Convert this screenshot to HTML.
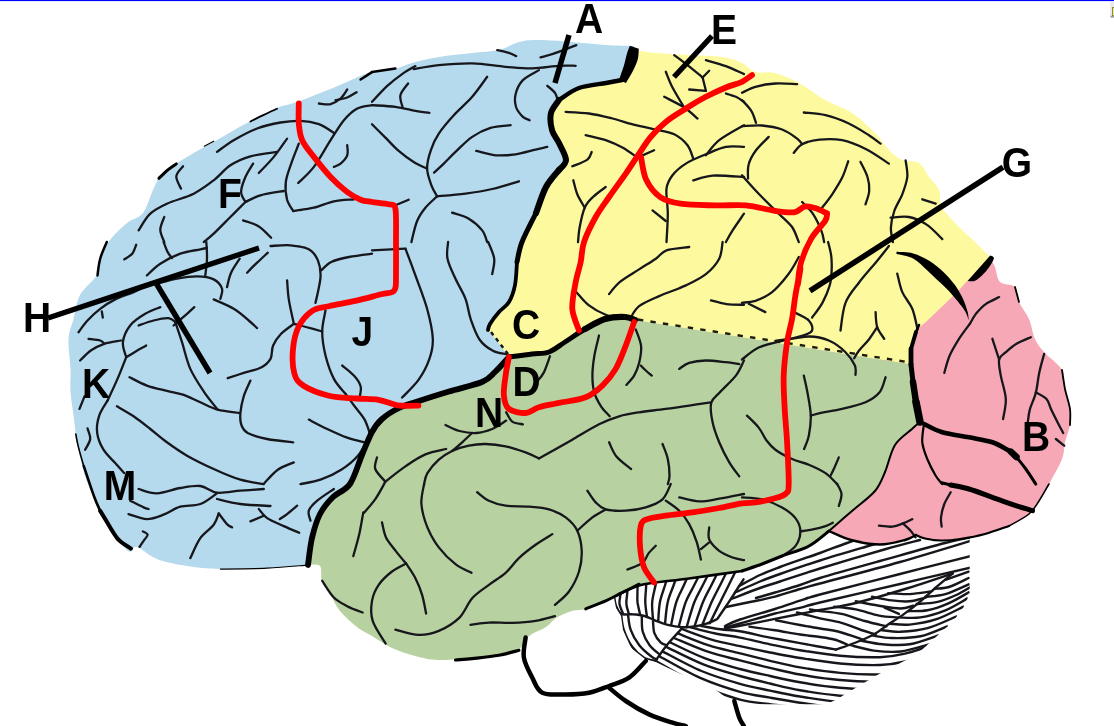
<!DOCTYPE html><html><head><meta charset="utf-8"><title>Brain</title><style>html,body{margin:0;padding:0;background:#fff;overflow:hidden}svg{display:block}text{font-family:"Liberation Sans",sans-serif;font-weight:bold;font-size:39px;fill:#000}</style></head><body>
<svg width="1114" height="726" viewBox="0 0 1114 726">
<rect width="1114" height="726" fill="#fff"/>
<rect width="1114" height="1.1" fill="#0000ff"/>
<rect x="1110" y="2" width="4" height="15.5" fill="#e9e9e9"/><rect x="1110.6" y="15.8" width="4" height="1.8" fill="#9a9a9a"/><rect x="1112" y="7" width="2" height="9" fill="#8e8e38"/><rect x="1113" y="8" width="1" height="7" fill="#e6e6a8"/>
<defs><filter id="soft" x="0" y="0" width="1114" height="726" filterUnits="userSpaceOnUse"><feGaussianBlur stdDeviation="0.55"/></filter></defs>
<g filter="url(#soft)">
<clipPath id="cb"><path d="M612.0 560.0 L614.0 598.0 L616.0 608.0 L621.0 616.0 L623.0 630.0 L631.0 648.0 L645.0 659.0 L655.6 662.0 L678.8 673.0 L713.3 688.0 L726.6 698.0 L736.5 704.2 L825.8 704.2 L835.7 700.0 L852.0 690.0 L880.0 673.5 L916.8 654.5 L943.6 630.0 L952.6 622.0 L963.4 607.5 L969.7 594.0 L969.7 520.0 L800.0 520.0Z"/></clipPath>
<g clip-path="url(#cb)" fill="none" stroke="#15181b" stroke-width="2.4" stroke-linecap="round" stroke-linejoin="round">
<path d="M614.3 597.9 C614.6 599.2 614.9 603.0 616.0 605.7 C617.2 608.3 618.5 612.5 621.2 613.9 C623.9 615.3 628.5 613.9 632.4 614.3 C636.2 614.6 640.7 615.0 644.4 616.0 C648.2 617.0 651.0 618.8 654.8 620.3 C658.5 621.7 662.2 623.4 666.8 624.6 C671.4 625.7 677.4 626.9 682.3 627.2 C687.2 627.5 692.0 626.9 696.1 626.3 C700.1 625.7 702.9 624.9 706.4 623.7 C709.8 622.6 715.0 620.1 716.7 619.4"/>
<path d="M621.1 587.6 C621.0 588.9 620.6 592.6 620.3 595.3 C620.1 598.1 619.0 600.9 619.5 603.9 C619.9 606.9 622.3 611.8 622.9 613.4"/>
<path d="M628.0 584.3 C627.9 585.9 627.5 590.3 627.2 593.6 C626.9 596.9 626.1 600.5 626.4 603.9 C626.6 607.3 628.5 612.3 628.9 613.9"/>
<path d="M637.5 579.3 C637.5 581.1 637.5 586.3 637.5 590.2 C637.5 594.0 637.1 598.1 637.5 602.2 C638.0 606.3 639.7 612.5 640.1 614.6"/>
<path d="M646.9 572.8 C646.8 575.1 646.4 581.8 646.1 586.7 C645.9 591.6 645.1 597.2 645.3 602.2 C645.4 607.2 646.7 614.4 647.0 616.8"/>
<path d="M658.7 569.5 C658.2 572.1 656.7 579.5 655.6 585.0 C654.5 590.5 652.6 596.5 652.2 602.2 C651.7 607.9 652.9 616.6 653.0 619.4"/>
<path d="M669.7 569.5 C669.0 572.1 666.7 579.5 665.1 585.0 C663.4 590.5 661.1 596.2 659.9 602.2 C658.8 608.2 658.5 618.0 658.2 621.1"/>
<path d="M679.1 569.5 C678.2 572.1 675.6 579.5 673.7 585.0 C671.8 590.5 669.1 595.8 667.7 602.2 C666.2 608.6 665.5 619.7 665.1 623.2"/>
<path d="M691.0 569.5 C689.8 572.1 686.5 579.5 684.0 585.0 C681.6 590.5 678.4 595.6 676.3 602.2 C674.1 608.9 672.0 621.1 671.1 624.9"/>
<path d="M702.1 569.5 C700.8 572.1 697.1 579.5 694.3 585.0 C691.6 590.5 688.3 595.3 685.7 602.2 C683.1 609.1 680.0 622.3 678.8 626.3"/>
<path d="M710.7 569.5 C709.4 572.1 705.7 579.5 702.9 585.0 C700.2 590.5 697.1 595.2 694.3 602.2 C691.6 609.2 687.9 623.0 686.6 627.2"/>
<path d="M719.3 569.5 C718.0 572.1 714.3 579.5 711.5 585.0 C708.8 590.5 705.8 595.2 702.9 602.2 C700.1 609.2 695.8 622.7 694.3 626.8"/>
<path d="M727.9 569.5 C726.6 572.1 722.9 579.5 720.2 585.0 C717.4 590.5 714.6 595.5 711.5 602.2 C708.5 609.0 703.7 621.6 702.1 625.4"/>
<path d="M736.5 569.5 C735.2 572.1 731.5 579.5 728.8 585.0 C726.0 590.5 723.3 595.8 720.2 602.2 C717.0 608.6 711.5 619.7 709.8 623.2"/>
<path d="M743.5 579.3 C742.3 581.1 739.0 586.3 736.5 590.2 C734.1 594.0 731.9 597.5 728.8 602.2 C725.6 606.9 719.4 615.8 717.6 618.6"/>
<path d="M621.2 615.1 C621.6 617.6 621.9 624.4 623.8 629.8 C625.6 635.1 628.9 642.2 632.4 647.0 C635.8 651.7 640.7 655.9 644.4 658.1 C648.2 660.4 653.0 660.3 654.8 660.7"/>
<path d="M628.1 615.1 C628.5 617.6 628.8 624.7 630.7 629.8 C632.5 634.8 635.8 640.8 639.3 645.2 C642.7 649.7 648.4 654.1 651.3 656.4 C654.2 658.8 655.9 658.9 656.8 659.4"/>
<path d="M641.8 616.8 C642.0 619.3 641.4 626.7 642.7 631.5 C644.0 636.2 646.7 641.4 649.6 645.2 C652.5 649.1 658.2 653.1 659.9 654.7"/>
<path d="M653.0 621.1 C653.3 623.2 653.1 629.6 654.4 633.2 C655.7 636.8 658.7 640.7 660.8 642.7 C662.8 644.7 665.8 644.8 666.8 645.2"/>
<path d="M682.3 628.0 C679.7 630.9 671.2 639.8 666.8 645.2 C662.4 650.7 657.5 658.1 655.6 660.7"/>
<path d="M701.2 626.0 C704.5 626.5 714.1 628.3 720.6 629.2 C727.1 630.1 731.8 629.9 740.0 631.3 C748.2 632.7 760.0 635.6 770.0 637.6 C780.0 639.5 791.7 641.6 800.0 643.1 C808.3 644.6 814.0 645.7 820.0 646.8 C826.0 647.9 833.1 649.0 835.7 649.5"/>
<path d="M690.9 627.3 C695.0 628.4 707.3 631.8 715.4 633.5 C723.6 635.2 730.9 635.8 740.0 637.6 C749.1 639.4 760.0 642.2 770.0 644.3 C780.0 646.4 788.3 648.3 800.0 650.2 C811.7 652.1 826.7 654.5 840.0 655.7 C853.3 656.9 869.2 657.5 880.0 657.2 C890.8 656.9 896.7 655.7 905.0 653.7 C913.3 651.7 921.7 649.1 930.0 645.2 C938.3 641.3 950.8 632.7 955.0 630.2"/>
<path d="M681.4 628.9 C686.3 630.6 701.0 636.4 710.7 639.3 C720.5 642.2 730.1 644.0 740.0 646.2 C749.9 648.4 760.0 650.5 770.0 652.5 C780.0 654.4 788.3 656.2 800.0 658.0 C811.7 659.8 826.7 662.3 840.0 663.5 C853.3 664.7 869.2 665.3 880.0 665.0 C890.8 664.7 896.7 663.5 905.0 661.5 C913.3 659.5 921.7 656.9 930.0 653.0 C938.3 649.1 950.8 640.5 955.0 638.0"/>
<path d="M677.7 633.4 C682.9 635.4 698.5 642.0 708.9 645.4 C719.2 648.7 729.8 650.7 740.0 653.3 C750.2 655.9 760.0 658.4 770.0 660.8 C780.0 663.1 788.3 665.4 800.0 667.4 C811.7 669.4 826.7 671.7 840.0 672.9 C853.3 674.1 869.2 674.7 880.0 674.4 C890.8 674.1 896.7 672.9 905.0 670.9 C913.3 668.9 921.7 666.3 930.0 662.4 C938.3 658.5 950.8 649.9 955.0 647.4"/>
<path d="M674.1 638.0 C679.5 640.2 696.0 647.7 707.0 651.4 C718.0 655.2 729.5 657.7 740.0 660.4 C750.5 663.1 760.0 665.5 770.0 667.9 C780.0 670.2 788.3 672.5 800.0 674.5 C811.7 676.5 826.7 678.8 840.0 680.0 C853.3 681.2 869.2 681.8 880.0 681.5 C890.8 681.2 896.7 680.0 905.0 678.0 C913.3 676.0 921.7 673.4 930.0 669.5 C938.3 665.6 950.8 657.0 955.0 654.5"/>
<path d="M670.4 642.5 C676.2 645.2 693.6 654.0 705.2 658.4 C716.8 662.8 729.2 666.1 740.0 669.0 C750.8 671.9 760.0 673.8 770.0 676.0 C780.0 678.3 788.3 680.3 800.0 682.3 C811.7 684.3 826.7 686.6 840.0 687.8 C853.3 689.0 869.2 689.6 880.0 689.3 C890.8 689.0 896.7 687.8 905.0 685.8 C913.3 683.8 921.7 681.2 930.0 677.3 C938.3 673.4 950.8 664.8 955.0 662.3"/>
<path d="M666.7 647.1 C672.8 650.0 691.1 659.6 703.3 664.4 C715.6 669.3 728.9 672.8 740.0 676.0 C751.1 679.2 760.0 681.2 770.0 683.5 C780.0 685.9 788.3 688.2 800.0 690.2 C811.7 692.2 826.7 694.5 840.0 695.7 C853.3 696.9 869.2 697.5 880.0 697.2 C890.8 696.9 896.7 695.7 905.0 693.7 C913.3 691.7 921.7 689.1 930.0 685.2 C938.3 681.3 950.8 672.7 955.0 670.2"/>
<path d="M663.0 651.6 C669.4 654.9 688.7 665.6 701.5 671.0 C714.3 676.4 728.6 680.6 740.0 683.9 C751.4 687.2 760.0 688.5 770.0 690.6 C780.0 692.7 788.3 694.6 800.0 696.5 C811.7 698.4 826.7 700.8 840.0 702.0 C853.3 703.2 869.2 703.8 880.0 703.5 C890.8 703.2 896.7 702.0 905.0 700.0 C913.3 698.0 921.7 695.4 930.0 691.5 C938.3 687.6 950.8 679.0 955.0 676.5"/>
<path d="M659.3 656.2 C666.0 659.7 686.2 671.6 699.6 677.6 C713.1 683.5 728.3 688.5 740.0 691.8 C751.7 695.1 760.0 695.8 770.0 697.6 C780.0 699.4 788.3 700.9 800.0 702.7 C811.7 704.5 826.7 707.0 840.0 708.2 C853.3 709.4 869.2 710.0 880.0 709.7 C890.8 709.4 896.7 708.2 905.0 706.2 C913.3 704.2 921.7 701.6 930.0 697.7 C938.3 693.8 950.8 685.2 955.0 682.7"/>
<path d="M655.6 660.7 C662.6 664.6 683.7 677.6 697.8 684.1 C711.9 690.5 728.0 696.3 740.0 699.6 C752.0 702.9 760.0 702.7 770.0 704.1 C780.0 705.5 788.3 706.4 800.0 708.0 C811.7 709.6 826.7 712.3 840.0 713.5 C853.3 714.7 869.2 715.3 880.0 715.0 C890.8 714.7 896.7 713.5 905.0 711.5 C913.3 709.5 921.7 706.9 930.0 703.0 C938.3 699.1 950.8 690.5 955.0 688.0"/>
<path d="M888.1 593.2 C891.7 593.4 902.4 594.4 909.6 594.1 C916.8 593.8 927.5 591.9 931.1 591.5"/>
<path d="M872.0 596.8 C875.3 597.4 885.4 599.7 891.7 600.4 C898.0 601.2 903.9 601.8 909.6 601.3 C915.3 600.9 923.0 598.3 925.7 597.7"/>
<path d="M855.8 601.3 C859.7 602.1 871.7 604.6 879.1 605.8 C886.6 607.0 895.0 608.5 900.6 608.5 C906.3 608.5 911.1 606.2 913.2 605.8"/>
<path d="M834.3 606.7 C837.9 607.1 848.4 607.9 855.8 609.4 C863.3 610.9 872.3 614.3 879.1 615.6 C886.0 617.0 894.1 617.1 897.1 617.4"/>
<path d="M810.0 609.5 C811.7 609.8 814.7 610.3 820.0 611.0 C825.3 611.7 834.0 612.2 841.5 613.9 C849.0 615.5 857.3 618.9 864.8 621.0 C872.3 623.1 882.7 625.5 886.3 626.4"/>
<path d="M797.0 612.5 C800.8 613.5 812.6 616.6 820.0 618.3 C827.4 620.0 834.6 620.9 841.5 622.8 C848.4 624.8 855.5 628.0 861.2 630.0 C866.9 631.9 873.2 633.7 875.6 634.5"/>
<path d="M776.1 620.3 C780.1 621.1 792.7 623.6 800.0 625.0 C807.3 626.4 813.7 627.4 820.0 628.5 C826.3 629.6 832.0 630.0 838.0 631.5 C844.0 633.0 851.3 635.7 855.8 637.2 C860.3 638.7 863.3 640.1 864.8 640.7"/>
<path d="M749.4 626.6 C753.7 627.2 766.6 629.0 775.0 630.3 C783.4 631.6 792.5 633.4 800.0 634.5 C807.5 635.6 814.3 636.2 820.0 637.0 C825.7 637.8 829.8 638.3 834.3 639.5 C838.8 640.7 844.8 643.5 846.9 644.3"/>
<path d="M884.5 607.6 L898.9 613.9"/>
<path d="M952.6 573.5 C949.9 575.8 941.9 582.3 936.5 587.0 C931.1 591.6 925.7 596.8 920.4 601.3 C915.0 605.8 909.6 610.0 904.2 613.9 C898.9 617.7 893.2 621.2 888.1 624.6 C883.0 628.0 879.1 631.5 873.8 634.5 C868.4 637.4 862.2 640.0 855.8 642.5 C849.5 645.1 839.1 648.5 835.8 649.7"/>
<path d="M945.4 579.8 L968.7 571.7"/>
<path d="M934.7 588.8 C937.1 588.5 943.4 588.8 949.0 587.0 C954.7 585.2 965.5 579.5 968.7 578.0"/>
<path d="M925.7 596.8 C929.0 596.4 938.3 596.2 945.4 594.1 C952.6 592.0 964.9 585.9 968.7 584.3"/>
<path d="M916.8 604.0 C920.1 603.7 929.9 603.7 936.5 602.2 C943.1 600.7 950.5 597.6 956.2 595.0 C961.9 592.5 968.1 588.3 970.5 587.0"/>
<path d="M907.8 611.2 C911.1 611.0 920.7 611.6 927.5 610.3 C934.4 608.9 942.2 606.1 949.0 603.1 C955.9 600.1 965.5 594.1 968.7 592.3"/>
<path d="M898.9 617.4 C902.4 617.4 912.6 618.6 920.4 617.4 C928.1 616.2 937.7 613.4 945.4 610.3 C953.2 607.1 963.4 600.6 967.0 598.6"/>
<path d="M889.9 623.7 C893.2 623.9 901.8 625.4 909.6 624.6 C917.4 623.9 927.5 622.2 936.5 619.2 C945.4 616.2 958.9 608.8 963.4 606.7"/>
<path d="M880.9 630.0 C884.2 630.3 892.9 632.1 900.6 631.8 C908.4 631.5 918.3 630.7 927.5 628.2 C936.8 625.7 951.4 618.5 956.2 616.5"/>
<path d="M872.0 635.4 C875.3 635.8 883.6 637.9 891.7 638.0 C899.7 638.2 911.1 638.2 920.4 636.3 C929.6 634.3 942.8 628.0 947.2 626.4"/>
<path d="M861.2 640.7 C864.8 641.3 874.7 643.7 882.7 644.3 C890.8 644.9 900.3 645.8 909.6 644.3 C918.9 642.8 933.5 636.9 938.3 635.4"/>
<path d="M850.5 645.2 C854.3 646.1 865.4 649.5 873.8 650.6 C882.1 651.6 891.4 652.5 900.6 651.5 C909.9 650.4 924.5 645.5 929.3 644.3"/>
<path d="M739.0 586.0 C742.5 584.2 753.2 578.2 760.0 575.0 C766.8 571.8 770.0 570.7 780.0 567.0 C790.0 563.3 808.8 557.0 820.0 553.0 C831.2 549.0 837.0 546.5 847.0 543.0 C857.0 539.5 874.5 533.8 880.0 532.0"/>
<path d="M735.0 592.5 C739.2 590.7 752.5 584.6 760.0 581.5 C767.5 578.4 770.0 577.5 780.0 574.0 C790.0 570.5 805.8 565.0 820.0 560.5 C834.2 556.0 851.7 550.9 865.0 547.0 C878.3 543.1 894.2 538.7 900.0 537.0"/>
<path d="M731.0 599.0 C735.8 597.2 751.8 590.9 760.0 588.0 C768.2 585.1 770.0 584.8 780.0 581.5 C790.0 578.2 802.3 573.9 820.0 568.5 C837.7 563.1 869.3 553.8 886.0 549.0 C902.7 544.2 914.3 541.5 920.0 540.0"/>
<path d="M756.0 598.0 C759.2 597.1 767.7 594.7 775.0 592.5 C782.3 590.3 792.5 587.4 800.0 585.0 C807.5 582.6 806.7 582.0 820.0 578.0 C833.3 574.0 859.2 566.8 880.0 561.0 C900.8 555.2 929.7 547.0 945.0 543.0 C960.3 539.0 967.5 538.0 972.0 537.0"/>
<path d="M726.0 607.0 C730.0 606.2 741.8 603.7 750.0 602.0 C758.2 600.3 766.7 598.8 775.0 596.6 C783.3 594.4 792.5 591.2 800.0 589.0 C807.5 586.8 803.3 588.0 820.0 583.5 C836.7 579.0 874.7 569.2 900.0 562.0 C925.3 554.8 960.0 544.1 972.0 540.5"/>
<path d="M725.0 626.0 C727.5 624.9 731.7 622.3 740.0 619.5 C748.3 616.7 765.0 612.1 775.0 609.0 C785.0 605.9 792.5 603.1 800.0 600.7 C807.5 598.3 803.3 599.0 820.0 594.5 C836.7 590.0 874.7 580.5 900.0 574.0 C925.3 567.5 960.0 558.8 972.0 555.7"/>
<path d="M725.0 627.5 C727.5 626.8 731.7 625.8 740.0 623.5 C748.3 621.2 765.0 616.1 775.0 613.5 C785.0 610.9 792.5 609.6 800.0 607.8 C807.5 606.0 803.3 606.5 820.0 602.5 C836.7 598.5 874.7 589.9 900.0 584.0 C925.3 578.1 960.0 570.0 972.0 567.2"/>
<path d="M725.0 628.5 C727.5 628.0 731.7 627.4 740.0 625.8 C748.3 624.2 765.0 620.9 775.0 618.9 C785.0 616.9 792.5 615.5 800.0 614.0 C807.5 612.5 810.7 611.8 820.0 610.0 C829.3 608.2 841.6 606.5 855.8 603.0 C870.0 599.5 888.9 593.9 905.0 589.0 C921.1 584.1 944.7 576.1 952.6 573.5"/>
</g>
<path d="M634.0 46.0 C629.2 45.8 615.3 45.7 605.0 45.0 C594.7 44.3 583.0 42.8 572.0 42.0 C561.0 41.2 547.8 40.0 539.0 40.0 C530.2 40.0 525.7 40.3 519.0 42.0 C512.3 43.7 506.8 48.2 499.0 50.0 C491.2 51.8 482.0 51.8 472.0 53.0 C462.0 54.2 449.0 55.3 439.0 57.0 C429.0 58.7 419.8 60.8 412.0 63.0 C404.2 65.2 398.8 68.5 392.0 70.0 C385.2 71.5 380.8 69.0 371.0 72.0 C361.2 75.0 345.3 83.0 333.0 88.0 C320.7 93.0 306.3 98.7 297.0 102.0 C287.7 105.3 285.3 104.5 277.0 108.0 C268.7 111.5 257.0 117.7 247.0 123.0 C237.0 128.3 227.0 134.3 217.0 140.0 C207.0 145.7 196.0 151.5 187.0 157.0 C178.0 162.5 168.7 167.5 163.0 173.0 C157.3 178.5 156.3 183.3 153.0 190.0 C149.7 196.7 147.3 207.5 143.0 213.0 C138.7 218.5 132.5 218.5 127.0 223.0 C121.5 227.5 114.5 234.0 110.0 240.0 C105.5 246.0 102.2 253.2 100.0 259.0 C97.8 264.8 100.3 269.0 97.0 275.0 C93.7 281.0 83.9 287.7 80.0 295.0 C76.1 302.3 75.4 311.7 73.5 319.0 C71.6 326.3 69.0 330.7 68.5 339.0 C68.0 347.3 70.2 360.2 70.5 369.0 C70.8 377.8 70.0 384.3 70.5 392.0 C71.0 399.7 72.4 406.7 73.5 415.0 C74.6 423.3 75.4 433.0 77.0 442.0 C78.6 451.0 81.2 462.0 83.0 469.0 C84.8 476.0 85.7 478.2 88.0 484.0 C90.3 489.8 93.3 496.8 97.0 504.0 C100.7 511.2 104.8 519.2 110.0 527.0 C115.2 534.8 123.5 547.7 128.0 551.0 C132.5 554.3 132.2 545.7 137.0 547.0 C141.8 548.3 148.7 555.8 157.0 559.0 C165.3 562.2 176.5 564.3 187.0 566.0 C197.5 567.7 206.7 568.7 220.0 569.0 C233.3 569.3 252.5 568.7 267.0 568.0 C281.5 567.3 300.3 565.5 307.0 565.0 L400.0 520.0 L509.0 357.0 L495.0 338.0 L488.0 330.0 C488.3 329.0 488.2 327.0 490.0 324.0 C491.8 321.0 495.8 315.7 499.0 312.0 C502.2 308.3 506.3 306.5 509.0 302.0 C511.7 297.5 513.7 291.7 515.0 285.0 C516.3 278.3 515.8 269.2 517.0 262.0 C518.2 254.8 518.8 250.2 522.0 242.0 C525.2 233.8 532.0 222.2 536.0 213.0 C540.0 203.8 542.2 194.2 546.0 187.0 C549.8 179.8 555.7 174.5 559.0 170.0 C562.3 165.5 566.0 164.5 566.0 160.0 C566.0 155.5 561.3 148.0 559.0 143.0 C556.7 138.0 553.3 135.0 552.0 130.0 C550.7 125.0 549.8 118.0 551.0 113.0 C552.2 108.0 554.3 104.2 559.0 100.0 C563.7 95.8 571.2 90.8 579.0 88.0 C586.8 85.2 598.8 84.3 606.0 83.0 C613.2 81.7 618.2 82.7 622.0 80.0 C625.8 77.3 627.0 72.3 629.0 67.0 C631.0 61.7 633.2 51.2 634.0 48.0Z" fill="#b5d9ed"/>
<path d="M990.0 257.0 C990.8 258.7 993.3 262.8 995.0 267.0 C996.7 271.2 996.7 278.7 1000.0 282.0 C1003.3 285.3 1011.8 283.7 1015.0 287.0 C1018.2 290.3 1016.7 296.7 1019.0 302.0 C1021.3 307.3 1026.3 312.8 1029.0 319.0 C1031.7 325.2 1032.5 333.5 1035.0 339.0 C1037.5 344.5 1039.5 346.8 1044.0 352.0 C1048.5 357.2 1058.5 363.8 1062.0 370.0 C1065.5 376.2 1063.7 382.5 1065.0 389.0 C1066.3 395.5 1069.2 403.0 1070.0 409.0 C1070.8 415.0 1070.8 419.5 1070.0 425.0 C1069.2 430.5 1066.3 436.3 1065.0 442.0 C1063.7 447.7 1064.7 452.0 1062.0 459.0 C1059.3 466.0 1052.8 477.0 1049.0 484.0 C1045.2 491.0 1042.3 496.0 1039.0 501.0 C1035.7 506.0 1034.0 509.8 1029.0 514.0 C1024.0 518.2 1016.3 522.7 1009.0 526.0 C1001.7 529.3 993.2 531.8 985.0 534.0 C976.8 536.2 967.3 537.9 960.0 539.0 C952.7 540.1 946.8 540.6 941.0 540.5 C935.2 540.4 929.2 539.4 925.0 538.5 C920.8 537.6 917.5 535.6 916.0 535.0 L916.0 535.0 C914.2 535.8 911.0 538.4 905.0 540.0 C899.0 541.6 889.0 544.5 880.0 544.5 C871.0 544.5 859.5 542.2 851.0 540.0 C842.5 537.8 832.7 532.5 829.0 531.0 L800.0 500.0 L880.0 360.0 L940.0 280.0Z" fill="#f6a8b6"/>
<path d="M634.0 48.0 C633.2 51.2 631.0 61.7 629.0 67.0 C627.0 72.3 625.8 77.3 622.0 80.0 C618.2 82.7 613.2 81.7 606.0 83.0 C598.8 84.3 586.8 85.2 579.0 88.0 C571.2 90.8 563.7 95.8 559.0 100.0 C554.3 104.2 552.2 108.0 551.0 113.0 C549.8 118.0 550.7 125.0 552.0 130.0 C553.3 135.0 556.7 138.0 559.0 143.0 C561.3 148.0 566.0 155.5 566.0 160.0 C566.0 164.5 562.3 165.5 559.0 170.0 C555.7 174.5 549.8 179.8 546.0 187.0 C542.2 194.2 540.0 203.8 536.0 213.0 C532.0 222.2 525.2 233.8 522.0 242.0 C518.8 250.2 518.2 254.8 517.0 262.0 C515.8 269.2 516.3 278.3 515.0 285.0 C513.7 291.7 511.7 297.5 509.0 302.0 C506.3 306.5 502.2 308.3 499.0 312.0 C495.8 315.7 491.8 321.0 490.0 324.0 C488.2 327.0 488.3 329.0 488.0 330.0 L495.0 338.0 L509.0 357.0 L509.0 357.0 C512.8 356.5 525.3 354.8 532.0 354.0 C538.7 353.2 543.5 354.0 549.0 352.0 C554.5 350.0 559.0 345.8 565.0 342.0 C571.0 338.2 578.3 332.8 585.0 329.0 C591.7 325.2 598.3 321.0 605.0 319.0 C611.7 317.0 620.0 316.8 625.0 317.0 C630.0 317.2 633.3 319.5 635.0 320.0 L911.0 364.5 L911.0 364.5 C911.0 361.9 910.2 354.4 911.0 349.0 C911.8 343.6 913.0 337.0 916.0 332.0 C919.0 327.0 922.5 325.3 929.0 319.0 C935.5 312.7 948.3 300.7 955.0 294.0 C961.7 287.3 963.2 285.2 969.0 279.0 C974.8 272.8 986.5 260.7 990.0 257.0 L990.0 257.0 C987.5 254.5 980.2 247.0 975.0 242.0 C969.8 237.0 964.5 232.8 959.0 227.0 C953.5 221.2 945.3 213.2 942.0 207.0 C938.7 200.8 941.2 195.0 939.0 190.0 C936.8 185.0 932.3 181.5 929.0 177.0 C925.7 172.5 923.5 165.8 919.0 163.0 C914.5 160.2 907.0 162.2 902.0 160.0 C897.0 157.8 893.5 154.5 889.0 150.0 C884.5 145.5 881.2 139.2 875.0 133.0 C868.8 126.8 860.3 118.5 852.0 113.0 C843.7 107.5 833.8 105.0 825.0 100.0 C816.2 95.0 807.3 87.5 799.0 83.0 C790.7 78.5 782.3 74.8 775.0 73.0 C767.7 71.2 760.5 73.7 755.0 72.0 C749.5 70.3 747.5 65.5 742.0 63.0 C736.5 60.5 730.8 58.3 722.0 57.0 C713.2 55.7 700.0 55.7 689.0 55.0 C678.0 54.3 664.8 53.8 656.0 53.0 C647.2 52.2 639.7 50.8 636.0 50.0 C632.3 49.2 634.3 48.3 634.0 48.0Z" fill="#fdf99e"/>
<path d="M308.0 565.0 C308.7 560.5 310.0 546.5 312.0 538.0 C314.0 529.5 316.5 520.8 320.0 514.0 C323.5 507.2 328.0 502.0 333.0 497.0 C338.0 492.0 345.2 491.0 350.0 484.0 C354.8 477.0 358.3 463.7 362.0 455.0 C365.7 446.3 368.7 438.0 372.0 432.0 C375.3 426.0 377.5 423.0 382.0 419.0 C386.5 415.0 392.8 411.0 399.0 408.0 C405.2 405.0 410.7 403.8 419.0 401.0 C427.3 398.2 438.5 394.7 449.0 391.5 C459.5 388.3 474.3 385.2 482.0 382.0 C489.7 378.8 490.5 376.2 495.0 372.0 C499.5 367.8 506.7 359.5 509.0 357.0 L509.0 357.0 C512.8 356.5 525.3 354.8 532.0 354.0 C538.7 353.2 543.5 354.0 549.0 352.0 C554.5 350.0 559.0 345.8 565.0 342.0 C571.0 338.2 578.3 332.8 585.0 329.0 C591.7 325.2 598.3 321.0 605.0 319.0 C611.7 317.0 620.0 316.8 625.0 317.0 C630.0 317.2 633.3 319.5 635.0 320.0 L911.0 364.5 L911.0 364.5 C911.3 367.4 912.2 375.8 913.0 382.0 C913.8 388.2 914.8 395.3 916.0 402.0 C917.2 408.7 919.3 418.7 920.0 422.0 L920.0 422.0 C918.7 423.2 916.2 425.2 912.0 429.0 C907.8 432.8 899.5 437.8 895.0 445.0 C890.5 452.2 888.3 464.3 885.0 472.0 C881.7 479.7 880.5 484.5 875.0 491.0 C869.5 497.5 859.7 504.3 852.0 511.0 C844.3 517.7 832.8 527.7 829.0 531.0 L829.0 531.0 C825.7 533.5 816.8 541.8 809.0 546.0 C801.2 550.2 789.8 553.0 782.0 556.0 C774.2 559.0 768.7 561.5 762.0 564.0 C755.3 566.5 754.2 568.6 742.0 571.0 C729.8 573.4 703.3 576.6 689.0 578.5 C674.7 580.4 664.3 581.3 656.0 582.5 C647.7 583.7 645.2 583.6 639.0 585.5 C632.8 587.4 624.5 591.4 619.0 594.0 C613.5 596.6 611.5 598.5 606.0 601.0 C600.5 603.5 591.7 607.3 586.0 609.0 C580.3 610.7 577.0 609.5 572.0 611.0 C567.0 612.5 560.3 615.3 556.0 618.0 C551.7 620.7 550.5 624.0 546.0 627.0 C541.5 630.0 533.5 632.3 529.0 636.0 C524.5 639.7 524.0 645.8 519.0 649.0 C514.0 652.2 506.8 653.5 499.0 655.0 C491.2 656.5 482.0 657.2 472.0 658.0 C462.0 658.8 448.5 660.3 439.0 660.0 C429.5 659.7 422.8 658.0 415.0 656.0 C407.2 654.0 399.2 651.3 392.0 648.0 C384.8 644.7 377.8 639.5 372.0 636.0 C366.2 632.5 362.3 631.2 357.0 627.0 C351.7 622.8 344.5 616.5 340.0 611.0 C335.5 605.5 333.0 599.0 330.0 594.0 C327.0 589.0 323.7 585.7 322.0 581.0 C320.3 576.3 322.3 568.7 320.0 566.0 C317.7 563.3 310.0 565.2 308.0 565.0Z" fill="#b7d1a0"/>
<g fill="none" stroke="#15181b" stroke-width="2.3" stroke-linecap="round" stroke-linejoin="round">
<path d="M318.9 103.5 C320.8 103.6 326.9 105.0 330.6 104.2 C334.2 103.3 337.8 100.9 340.6 98.5 C343.4 96.0 346.1 91.0 347.2 89.5"/>
<path d="M335.6 100.2 C337.5 99.7 343.7 98.8 347.2 97.5 C350.8 96.2 355.0 93.0 356.6 92.2"/>
<path d="M217.0 151.9 C219.8 150.0 227.0 144.1 233.7 140.2 C240.4 136.3 249.3 131.5 257.1 128.5 C264.9 125.6 273.2 123.8 280.5 122.5 C287.7 121.3 294.1 120.6 300.5 120.9 C306.9 121.1 313.3 122.2 318.9 124.2 C324.4 126.2 331.4 131.4 333.9 132.9"/>
<path d="M372.0 105.2 C369.5 105.7 361.9 106.0 357.3 108.5 C352.6 111.0 348.4 114.9 343.9 120.2 C339.5 125.5 335.6 132.4 330.6 140.2 C325.5 148.0 319.3 159.8 313.9 166.9 C308.5 174.1 300.8 180.3 298.2 183.0"/>
<path d="M347.2 145.2 C347.2 146.9 348.4 152.2 347.2 155.3 C346.1 158.3 342.8 161.7 340.6 163.6 C338.3 165.6 335.0 166.4 333.9 166.9"/>
<path d="M258.8 173.0 C261.3 170.3 269.1 162.7 273.8 156.9 C278.5 151.2 284.9 141.6 287.1 138.6"/>
<path d="M183.0 166.3 C181.9 167.9 176.6 172.6 176.3 176.3 C176.0 180.0 180.2 186.6 181.0 188.6"/>
<path d="M138.6 230.4 C140.5 227.6 145.5 218.1 150.3 213.7 C155.0 209.2 159.7 207.0 166.9 203.7 C174.2 200.3 185.9 197.6 193.7 193.7 C201.4 189.8 207.6 185.0 213.7 180.3 C219.8 175.6 224.3 169.3 230.4 165.3 C236.5 161.3 242.6 158.5 250.4 156.3 C258.2 154.0 272.7 152.6 277.1 151.9"/>
<path d="M253.1 163.6 C251.8 165.8 247.4 172.2 245.4 177.0 C243.4 181.7 241.1 187.8 241.1 192.0 C241.1 196.2 244.7 200.3 245.4 202.0"/>
<path d="M245.4 202.0 C247.9 200.9 254.0 197.2 260.4 195.3 C266.8 193.5 279.9 191.7 283.8 191.0"/>
<path d="M245.4 202.0 C242.9 204.5 235.7 211.7 230.4 217.0 C225.1 222.3 218.1 229.5 213.7 233.7 C209.2 237.9 205.3 240.7 203.7 242.1"/>
<path d="M298.8 143.6 C297.6 146.9 293.3 157.2 291.2 163.6 C289.0 170.0 286.5 176.0 285.8 182.0 C285.1 188.0 285.9 194.8 287.1 199.7 C288.4 204.5 292.2 209.1 293.2 211.0"/>
<path d="M293.2 211.0 C296.6 210.5 307.1 209.3 313.9 207.7 C320.6 206.1 327.2 202.7 333.9 201.3 C340.6 199.9 350.6 199.7 353.9 199.3"/>
<path d="M164.3 217.0 C163.6 219.1 160.3 225.5 160.3 229.7 C160.3 233.9 163.6 240.0 164.3 242.1"/>
<path d="M243.1 220.4 C245.7 221.4 254.1 223.5 258.8 226.4 C263.4 229.3 269.1 235.8 271.1 237.7"/>
<path d="M372.0 101.8 C374.5 99.2 382.0 90.8 387.0 86.1 C392.0 81.5 397.3 77.5 402.1 74.1 C406.8 70.8 413.2 67.4 415.4 66.1"/>
<path d="M413.7 69.1 C417.9 68.4 429.0 66.1 438.8 65.1 C448.5 64.2 461.0 63.2 472.2 63.4 C483.3 63.7 495.5 65.9 505.6 66.8 C515.6 67.6 523.4 68.6 532.3 68.4 C541.2 68.3 551.7 66.2 559.0 65.8 C566.2 65.3 572.9 65.8 575.7 65.8"/>
<path d="M497.2 50.1 C499.2 50.5 505.7 51.8 508.9 52.8 C512.1 53.8 515.0 55.5 516.2 56.1"/>
<path d="M408.1 83.5 C406.8 85.4 401.3 91.2 400.4 95.2 C399.5 99.2 402.3 105.5 402.7 107.5"/>
<path d="M372.0 105.2 C375.9 105.5 388.1 105.9 395.4 106.8 C402.6 107.8 409.7 109.8 415.4 110.9 C421.1 111.9 427.1 112.5 429.4 112.9"/>
<path d="M487.2 76.8 C484.7 80.1 477.7 90.4 472.2 96.8 C466.6 103.2 459.4 109.1 453.8 115.2 C448.2 121.3 442.6 127.7 438.8 133.6 C434.9 139.4 432.7 144.4 430.8 150.3 C428.8 156.1 427.0 162.8 427.1 168.6 C427.2 174.5 429.8 180.7 431.4 185.3 C433.1 189.9 436.2 194.5 437.1 196.3"/>
<path d="M372.0 124.2 C374.2 126.4 380.9 133.1 385.4 137.6 C389.8 142.0 394.0 146.9 398.7 150.9 C403.4 155.0 409.0 159.0 413.7 161.9 C418.5 164.9 424.9 167.5 427.1 168.6"/>
<path d="M510.6 125.2 C507.2 125.7 496.9 125.9 490.5 127.9 C484.1 129.8 478.0 132.9 472.2 136.9 C466.3 140.9 460.2 147.5 455.5 151.9 C450.7 156.4 447.3 160.2 443.8 163.6 C440.2 167.1 435.7 171.1 434.1 172.6"/>
<path d="M437.1 196.3 C441.8 195.9 456.3 194.9 465.5 193.7 C474.7 192.4 483.3 191.0 492.2 189.0 C501.1 186.9 514.5 182.6 518.9 181.3"/>
<path d="M437.1 196.3 C435.2 198.2 428.8 203.6 425.4 207.7 C422.1 211.8 419.4 215.3 417.1 221.0 C414.7 226.8 412.3 238.6 411.4 242.1"/>
<path d="M395.4 205.3 L408.7 199.7"/>
<path d="M452.1 212.7 C454.9 213.7 463.8 215.7 468.8 218.7 C473.8 221.6 479.1 226.5 482.2 230.4 C485.2 234.3 486.4 240.1 487.2 242.1"/>
<path d="M538.9 70.1 C536.3 71.8 526.8 76.1 522.9 80.1 C519.0 84.1 516.7 89.6 515.6 94.2 C514.5 98.7 515.0 103.7 516.2 107.5 C517.5 111.3 520.7 114.7 522.9 116.9 C525.1 119.0 528.5 119.6 529.6 120.2"/>
<path d="M547.3 85.8 C548.6 87.0 553.2 90.4 555.0 92.8 C556.7 95.2 557.2 98.9 557.6 100.2"/>
<path d="M476.2 150.9 C479.4 151.6 489.0 154.7 495.5 155.3 C502.1 155.8 508.9 155.2 515.6 154.3 C522.3 153.3 530.3 150.8 535.6 149.6 C540.9 148.4 545.3 147.4 547.3 146.9"/>
<path d="M540.6 57.4 C543.4 56.6 551.4 54.5 557.3 52.4 C563.3 50.4 573.2 46.3 576.3 45.1"/>
<path d="M565.7 111.9 C569.6 112.1 581.2 112.4 589.0 113.5 C596.8 114.6 604.6 116.6 612.4 118.5 C620.2 120.5 628.5 123.4 635.8 125.2 C643.0 127.0 652.5 128.8 655.8 129.5"/>
<path d="M585.7 135.2 C589.0 136.1 599.6 138.2 605.7 140.2 C611.8 142.3 617.1 144.7 622.4 147.6 C627.7 150.5 634.9 155.9 637.4 157.6"/>
<path d="M637.4 157.6 L654.1 150.3"/>
<path d="M591.7 151.9 C591.0 153.2 590.6 157.2 587.4 159.6 C584.1 162.0 574.8 165.2 572.3 166.3"/>
<path d="M573.3 180.3 C574.0 182.6 575.5 189.8 577.3 194.3 C579.2 198.9 583.5 205.5 584.7 207.7"/>
<path d="M605.7 187.0 C603.6 188.6 596.5 193.5 593.0 197.0 C589.5 200.4 586.9 202.7 584.7 207.7 C582.5 212.7 580.8 221.3 579.7 227.0 C578.6 232.8 578.3 239.6 578.0 242.1"/>
<path d="M665.8 71.8 C666.9 74.4 669.4 81.5 672.5 87.5 C675.6 93.4 682.2 104.2 684.2 107.5"/>
<path d="M664.2 96.8 C667.5 98.6 678.6 103.9 684.2 107.5 C689.8 111.1 695.3 116.7 697.5 118.5"/>
<path d="M674.2 55.1 C676.4 56.8 682.8 61.4 687.5 65.1 C692.3 68.8 700.0 75.4 702.6 77.5"/>
<path d="M702.6 77.5 L705.9 90.8"/>
<path d="M689.2 89.5 L705.9 90.8"/>
<path d="M705.9 60.1 C709.2 61.1 719.6 63.8 725.9 66.1 C732.3 68.4 740.9 72.8 744.0 74.1"/>
<path d="M709.2 70.8 L702.6 77.5"/>
<path d="M725.9 93.5 C727.6 94.0 732.9 95.4 735.9 96.8 C738.9 98.2 742.6 101.0 744.0 101.8"/>
<path d="M655.8 129.5 C658.9 130.3 668.9 131.6 674.2 134.2 C679.5 136.8 684.4 141.2 687.5 145.2 C690.7 149.3 692.3 156.4 693.2 158.6"/>
<path d="M744.0 125.2 C739.8 127.7 725.6 135.2 719.2 140.2 C712.9 145.2 708.1 152.8 705.9 155.3"/>
<path d="M744.0 146.9 C740.9 146.9 732.3 145.7 725.9 146.9 C719.6 148.1 712.6 151.5 705.9 154.3 C699.2 157.0 691.4 160.1 685.9 163.6 C680.3 167.1 675.7 171.1 672.5 175.3 C669.3 179.5 667.3 182.2 666.5 188.6 C665.7 195.0 667.8 204.8 667.8 213.7 C667.8 222.6 666.7 237.3 666.5 242.1"/>
<path d="M693.2 180.3 C696.4 179.5 704.1 176.2 712.6 175.6 C721.0 175.1 738.7 176.7 744.0 177.0"/>
<path d="M652.5 210.4 L665.8 221.0"/>
<path d="M744.0 213.7 C742.1 216.5 735.6 225.7 732.6 230.4 C729.6 235.1 727.0 240.1 725.9 242.1"/>
<path d="M742.0 92.8 C744.2 91.8 749.8 88.4 755.4 86.8 C760.9 85.3 768.4 83.9 775.4 83.5 C782.3 83.0 793.5 84.0 797.1 84.1"/>
<path d="M742.0 100.2 C743.6 101.9 749.0 107.1 751.3 110.9 C753.7 114.6 755.2 120.9 756.0 122.9"/>
<path d="M803.8 112.5 C807.4 113.0 818.0 113.4 825.5 115.2 C833.0 117.0 841.6 120.2 848.8 123.5 C856.1 126.9 863.6 131.9 868.9 135.2 C874.2 138.6 878.6 142.2 880.6 143.6"/>
<path d="M742.0 126.2 C745.3 126.1 755.4 125.0 762.0 125.5 C768.7 126.1 776.2 127.4 782.1 129.5 C787.9 131.7 793.8 136.1 797.1 138.6 C800.4 141.0 801.3 143.3 802.1 144.2"/>
<path d="M793.8 152.9 C795.1 151.5 797.8 146.5 802.1 144.2 C806.4 142.0 812.8 140.2 819.5 139.6 C826.1 138.9 834.4 138.6 842.2 140.2 C850.0 141.8 858.4 145.4 866.2 149.2 C874.0 153.1 885.1 161.2 888.9 163.6"/>
<path d="M768.7 136.9 C766.6 139.1 759.4 145.7 756.0 150.3 C752.7 154.8 750.0 159.5 748.7 164.3 C747.3 169.0 748.1 176.2 748.0 178.6"/>
<path d="M742.0 175.3 C744.8 178.4 752.6 187.3 758.7 193.7 C764.8 200.1 775.4 210.4 778.7 213.7"/>
<path d="M848.2 161.3 C847.2 164.0 844.8 172.1 842.2 177.6 C839.5 183.1 835.5 189.3 832.2 194.3 C828.8 199.3 823.8 205.5 822.1 207.7"/>
<path d="M860.5 161.9 C861.7 164.4 866.1 172.1 867.5 177.0 C869.0 181.8 869.5 186.4 869.2 191.0 C868.9 195.5 866.2 202.1 865.5 204.3"/>
<path d="M905.6 160.3 C905.9 163.0 907.8 171.3 907.3 177.0 C906.7 182.6 904.4 188.6 902.3 194.3 C900.1 200.0 896.1 205.5 894.3 211.0 C892.4 216.6 891.1 222.5 890.9 227.7 C890.7 232.9 892.6 239.7 892.9 242.1"/>
<path d="M922.3 199.3 L935.7 203.7"/>
<path d="M890.6 217.7 C893.6 217.6 903.0 215.9 908.9 217.0 C914.9 218.1 920.7 220.7 926.3 224.4 C931.9 228.0 939.7 236.6 942.3 239.1"/>
<path d="M802.1 202.0 C803.9 204.0 809.6 208.8 812.8 213.7 C816.0 218.5 819.6 226.3 821.5 231.1 C823.4 235.8 823.7 240.2 824.1 242.1"/>
<path d="M778.7 213.7 C781.0 215.9 788.7 222.3 792.1 227.0 C795.4 231.8 797.6 239.6 798.8 242.1"/>
<path d="M126.2 357.2 C124.8 360.8 120.6 371.7 117.5 378.9 C114.4 386.1 109.2 397.0 107.5 400.6"/>
<path d="M79.5 408.9 L84.5 396.3"/>
<path d="M101.8 311.4 L102.8 317.5"/>
<path d="M136.2 244.7 C135.6 246.2 134.2 251.2 132.2 253.7 C130.2 256.1 125.5 258.4 124.2 259.4"/>
<path d="M163.6 242.0 C164.3 243.7 166.2 249.3 167.6 252.0 C169.0 254.7 171.2 257.0 172.0 258.0"/>
<path d="M146.9 275.4 C149.1 273.4 154.7 267.3 160.3 263.7 C165.8 260.1 173.6 256.1 180.3 253.7 C187.0 251.3 195.9 250.3 200.3 249.3 C204.8 248.4 205.9 248.2 207.0 248.0"/>
<path d="M206.3 242.0 C206.5 244.8 207.2 253.1 207.0 258.7 C206.8 264.3 205.6 272.6 205.3 275.4"/>
<path d="M239.7 258.7 C238.3 261.0 233.2 268.0 231.1 272.7 C228.9 277.4 227.7 284.7 227.0 287.1"/>
<path d="M270.5 246.0 C273.8 245.9 284.1 244.8 290.5 245.3 C296.9 245.9 304.3 246.8 308.8 249.3 C313.4 251.8 315.9 255.7 317.9 260.4 C319.8 265.0 320.9 270.0 320.5 277.1 C320.1 284.1 316.4 298.5 315.5 302.8"/>
<path d="M267.8 252.7 C266.0 254.4 260.5 259.4 257.1 262.7 C253.6 266.0 248.7 271.0 247.1 272.7"/>
<path d="M372.0 253.7 C368.1 254.2 355.7 255.6 348.9 257.0 C342.1 258.4 335.8 259.8 331.2 262.0 C326.6 264.3 322.9 269.0 321.2 270.4"/>
<path d="M78.5 332.2 C80.0 330.2 83.9 324.4 87.5 320.5 C91.1 316.6 95.5 312.3 100.2 308.8 C104.8 305.3 109.6 302.2 115.2 299.4 C120.8 296.6 128.3 294.4 133.6 292.1 C138.8 289.7 144.7 286.5 146.9 285.4"/>
<path d="M80.1 360.5 C81.9 358.9 86.8 353.3 90.8 350.5 C94.8 347.7 99.2 345.5 104.2 343.8 C109.2 342.2 118.1 341.1 120.9 340.5"/>
<path d="M88.5 338.8 C90.4 339.1 97.6 339.7 100.2 340.5 C102.8 341.3 103.5 343.3 104.2 343.8"/>
<path d="M126.2 357.2 C125.7 354.7 122.2 347.5 122.9 342.2 C123.5 336.9 126.5 330.2 130.2 325.5 C133.9 320.7 140.2 316.8 145.2 313.8 C150.3 310.7 157.8 308.2 160.3 307.1"/>
<path d="M126.2 357.2 C128.0 356.1 133.6 352.8 136.9 350.8 C140.2 348.9 144.7 346.4 146.2 345.5"/>
<path d="M138.6 325.5 C141.1 324.6 148.6 321.7 153.6 320.5 C158.6 319.2 164.8 317.7 168.6 318.1 C172.4 318.5 175.0 322.0 176.3 322.8"/>
<path d="M173.6 325.5 C175.8 323.5 183.5 316.8 187.0 313.8 C190.4 310.7 193.1 308.2 194.3 307.1"/>
<path d="M175.3 322.1 C176.4 325.5 179.5 334.4 182.0 342.2 C184.5 350.0 186.6 360.5 190.3 368.9 C194.0 377.2 199.8 385.5 204.3 392.3 C208.9 399.0 215.5 406.7 217.7 409.6"/>
<path d="M156.9 283.7 C160.3 282.9 170.3 280.0 177.0 278.7 C183.6 277.5 190.9 276.3 197.0 276.4 C203.1 276.5 209.5 277.3 213.7 279.4 C217.9 281.5 220.9 285.5 222.0 288.7 C223.1 292.0 220.6 297.1 220.4 298.8"/>
<path d="M213.7 299.4 C217.0 301.0 227.9 305.3 233.7 308.8 C239.6 312.3 244.9 317.2 248.7 320.5 C252.6 323.7 255.7 326.9 257.1 328.1"/>
<path d="M287.1 280.4 C287.4 283.6 287.7 292.2 288.8 299.4 C289.9 306.7 293.0 319.7 293.8 323.8"/>
<path d="M293.8 323.8 C291.7 325.5 284.6 330.2 281.1 333.8 C277.7 337.4 274.9 341.3 273.1 345.5 C271.3 349.7 272.5 355.2 270.5 358.9 C268.4 362.5 265.6 365.2 261.1 367.5 C256.6 369.9 249.3 371.1 243.7 372.9 C238.2 374.7 230.4 377.3 227.7 378.2"/>
<path d="M293.8 323.8 C296.2 324.4 303.1 326.2 307.8 327.5 C312.6 328.8 319.8 330.8 322.2 331.5"/>
<path d="M325.5 310.4 C325.0 314.0 322.2 324.0 322.2 331.5 C322.2 339.0 323.6 347.6 325.5 355.5 C327.5 363.4 330.6 372.5 333.9 378.9 C337.2 385.3 343.6 391.4 345.6 393.9"/>
<path d="M342.2 365.5 C344.2 367.2 350.9 372.1 353.9 375.6 C357.0 379.0 359.6 382.8 360.6 386.2 C361.6 389.7 360.0 394.6 359.9 396.3"/>
<path d="M129.5 377.2 C132.4 378.6 140.7 383.3 146.9 385.6 C153.1 387.9 160.9 389.4 166.9 390.9 C173.0 392.4 177.4 392.7 183.0 394.6 C188.5 396.5 194.5 399.8 200.3 402.3 C206.1 404.8 211.2 407.8 217.7 409.6 C224.2 411.4 235.5 412.4 239.1 413.0"/>
<path d="M250.4 380.6 C249.3 383.2 245.4 390.9 243.7 396.3 C242.1 401.7 240.8 408.2 240.4 413.0 C240.0 417.7 240.2 421.6 241.4 425.0 C242.6 428.3 243.5 430.6 247.7 433.0 C252.0 435.3 259.5 437.4 267.1 439.0 C274.7 440.6 288.8 441.8 293.2 442.3"/>
<path d="M116.9 406.3 C119.6 407.9 128.0 412.5 133.6 416.3 C139.1 420.1 144.7 424.6 150.3 429.0 C155.8 433.3 160.8 437.9 166.9 442.3 C173.1 446.8 179.2 451.2 187.0 455.7 C194.8 460.1 204.8 465.0 213.7 469.0 C222.6 473.1 232.1 477.2 240.4 479.7 C248.7 482.2 259.9 483.3 263.8 484.1"/>
<path d="M107.5 400.6 C106.1 403.1 100.9 410.2 99.2 415.6 C97.4 421.0 96.4 427.3 97.2 433.0 C97.9 438.7 100.5 444.7 103.5 449.7 C106.5 454.7 111.7 459.1 115.2 463.0 C118.6 466.9 122.7 471.4 124.2 473.1"/>
<path d="M87.5 428.3 C87.9 430.1 90.5 435.4 90.2 439.0 C89.8 442.6 86.0 447.9 85.1 449.7"/>
<path d="M308.8 419.6 C311.9 421.2 320.8 426.0 327.2 429.0 C333.6 432.0 341.0 435.4 347.2 437.7 C353.5 439.9 361.7 441.6 364.6 442.3"/>
<path d="M367.3 439.7 C365.7 442.3 362.3 450.7 357.9 455.7 C353.6 460.7 347.5 465.7 341.2 469.7 C335.0 473.7 327.3 477.3 320.5 479.7 C313.7 482.1 303.8 483.3 300.5 484.1"/>
<path d="M293.8 462.4 C291.2 463.6 282.7 466.3 277.8 469.7 C272.9 473.2 266.7 480.8 264.4 483.1"/>
<path d="M345.6 393.9 C347.1 396.0 351.4 402.0 354.6 406.3 C357.8 410.6 361.9 414.7 364.6 419.6 C367.3 424.5 369.6 433.0 370.6 435.7"/>
<path d="M550.0 356.2 C548.9 359.0 545.8 368.7 543.6 372.9 C541.4 377.1 538.1 380.1 536.9 381.6"/>
<path d="M372.0 250.3 L405.4 248.7"/>
<path d="M405.4 248.7 C407.1 253.1 411.8 265.4 415.4 275.4 C419.0 285.4 424.2 298.2 427.1 308.8 C430.0 319.4 432.4 330.5 432.8 338.8 C433.2 347.2 431.8 352.1 429.4 358.9 C427.1 365.7 423.3 373.1 418.7 379.6 C414.2 386.0 404.8 394.6 402.1 397.6"/>
<path d="M448.1 242.0 C448.0 244.8 446.2 252.6 447.5 258.7 C448.7 264.8 452.5 272.1 455.5 278.7 C458.5 285.4 462.9 292.0 465.5 298.8 C468.0 305.6 468.5 312.7 470.8 319.5 C473.2 326.3 475.8 334.3 479.5 339.5 C483.2 344.7 488.4 348.4 492.9 350.8 C497.3 353.3 504.0 353.6 506.2 354.2"/>
<path d="M488.2 242.0 C489.2 244.8 493.5 253.4 494.2 258.7 C494.9 264.0 492.5 271.5 492.2 274.1"/>
<path d="M689.2 247.0 C685.4 247.6 672.1 248.4 666.5 250.3 C660.9 252.3 660.4 255.5 655.8 258.7 C651.2 261.9 645.1 265.5 639.1 269.4 C633.1 273.3 624.8 277.9 619.7 282.1 C614.7 286.2 610.8 292.1 609.1 294.1"/>
<path d="M722.6 242.0 C722.0 244.8 722.0 253.4 719.2 258.7 C716.5 264.0 711.5 269.6 705.9 274.1 C700.3 278.5 693.6 281.7 685.9 285.4 C678.1 289.1 666.9 292.6 659.1 296.1 C651.4 299.5 643.8 302.5 639.1 306.1 C634.4 309.7 632.2 315.6 630.8 317.5"/>
<path d="M576.3 292.1 C578.5 294.3 584.1 301.7 589.0 305.4 C593.9 309.2 600.7 312.8 605.7 314.8 C610.7 316.8 616.9 317.0 619.1 317.5"/>
<path d="M710.9 300.4 C713.5 301.0 721.1 303.4 726.6 304.1 C732.1 304.8 741.1 304.7 744.0 304.8"/>
<path d="M599.0 335.5 C598.3 338.8 595.5 348.8 594.4 355.5 C593.3 362.2 592.4 369.3 592.4 375.6 C592.4 381.8 592.9 387.8 594.4 392.9 C595.8 398.0 598.5 402.4 601.0 406.3 C603.6 410.2 608.3 414.6 609.7 416.3"/>
<path d="M635.8 329.5 C636.7 332.3 640.6 340.6 641.1 346.2 C641.7 351.7 640.3 358.0 639.1 362.9 C637.9 367.8 636.2 371.9 634.1 375.6 C632.0 379.2 627.7 383.3 626.4 384.9"/>
<path d="M640.8 365.5 C641.6 366.4 644.0 368.9 645.8 370.5 C647.6 372.2 650.8 374.7 651.8 375.6"/>
<path d="M679.2 368.9 C680.8 367.9 684.7 364.3 689.2 362.9 C693.6 361.5 699.8 360.6 705.9 360.5 C712.0 360.4 720.4 361.6 725.9 362.2 C731.5 362.8 737.1 363.9 739.3 364.2"/>
<path d="M744.0 360.5 C742.6 363.0 739.9 370.3 735.9 375.6 C731.9 380.8 724.0 387.7 719.9 392.3 C715.8 396.8 712.5 397.9 711.2 402.9 C710.0 407.9 711.2 415.7 712.6 422.3 C713.9 428.9 716.5 435.7 719.2 442.3 C722.0 449.0 725.9 456.7 729.3 462.4 C732.6 468.0 737.6 474.1 739.3 476.4"/>
<path d="M710.9 402.3 C707.3 402.8 696.7 404.5 689.2 405.6 C681.7 406.7 674.2 407.8 665.8 408.9 C657.5 410.1 646.9 411.1 639.1 412.3 C631.3 413.5 625.8 414.3 619.1 416.3 C612.4 418.3 606.8 420.4 599.0 424.3 C591.3 428.2 580.1 435.2 572.3 439.7 C564.5 444.1 557.9 447.9 552.3 451.0 C546.7 454.1 541.2 457.1 538.9 458.4"/>
<path d="M538.9 458.4 C536.7 457.4 531.2 454.4 525.6 452.4 C520.0 450.3 512.2 447.7 505.6 446.3 C498.9 444.9 491.6 444.1 485.5 444.0 C479.4 443.9 474.4 444.5 468.8 445.7 C463.3 446.8 457.1 448.7 452.1 451.0 C447.1 453.4 442.9 456.0 438.8 459.7 C434.7 463.4 429.9 469.0 427.4 473.1 C425.0 477.1 424.6 482.2 424.1 484.1"/>
<path d="M445.5 425.0 C447.8 426.0 454.4 429.6 459.5 431.0 C464.6 432.3 470.7 433.3 476.2 433.0 C481.6 432.7 487.2 431.0 492.2 429.0 C497.2 426.9 503.9 422.0 506.2 420.6"/>
<path d="M506.2 412.3 C507.2 413.8 509.5 419.6 512.2 421.6 C515.0 423.6 521.1 423.9 522.9 424.3"/>
<path d="M472.2 433.0 C470.5 434.5 465.5 439.3 462.2 442.3 C458.8 445.3 453.8 449.6 452.1 451.0"/>
<path d="M385.4 481.7 C383.7 484.6 379.0 493.9 375.3 499.1 C371.7 504.3 365.6 510.8 363.7 513.1"/>
<path d="M377.0 457.4 C376.7 459.3 373.9 465.0 375.3 469.0 C376.7 473.1 383.7 479.6 385.4 481.7"/>
<path d="M385.4 481.7 C388.7 479.2 398.7 470.9 405.4 466.4 C412.1 461.8 418.6 457.2 425.4 454.4 C432.2 451.5 442.7 449.9 446.1 449.0"/>
<path d="M609.1 442.3 C610.3 444.7 612.7 451.9 616.4 456.4 C620.1 460.8 628.6 466.9 631.1 469.0"/>
<path d="M662.5 444.0 C663.4 446.5 666.7 453.7 667.8 459.0 C669.0 464.3 669.5 471.5 669.5 475.7 C669.5 479.9 668.1 482.7 667.8 484.1"/>
<path d="M828.1 242.0 C828.7 244.8 831.1 252.0 831.5 258.7 C831.9 265.4 831.9 274.8 830.5 282.1 C829.0 289.3 825.9 296.2 822.8 302.1 C819.7 308.0 813.9 314.9 812.1 317.5"/>
<path d="M798.8 257.0 C797.1 259.8 793.2 267.9 788.7 273.7 C784.3 279.6 777.6 287.6 772.1 292.1 C766.5 296.6 760.4 299.0 755.4 300.8 C750.3 302.5 744.2 302.4 742.0 302.8"/>
<path d="M748.7 303.8 L765.4 312.1"/>
<path d="M793.8 312.1 C796.3 313.5 805.8 317.2 808.8 320.5 C811.7 323.7 813.7 328.6 811.4 331.5 C809.2 334.3 801.4 335.9 795.4 337.5 C789.4 339.1 778.7 340.3 775.4 340.8"/>
<path d="M888.9 246.0 C886.7 248.8 880.6 256.6 875.6 262.7 C870.5 268.8 863.9 276.1 858.9 282.7 C853.9 289.4 848.6 294.8 845.5 302.8 C842.4 310.7 841.3 325.9 840.5 330.5"/>
<path d="M897.3 273.7 C898.1 276.8 899.8 286.2 902.3 292.1 C904.8 297.9 909.7 302.5 912.3 308.8 C914.8 315.0 916.7 326.0 917.6 329.5"/>
<path d="M875.6 312.1 C875.8 314.6 875.8 322.7 877.2 327.1 C878.7 331.6 883.1 336.9 884.2 338.8"/>
<path d="M877.2 327.1 C875.8 329.2 871.9 335.5 868.9 339.5 C865.8 343.4 861.3 347.7 858.9 350.8 C856.4 354.0 855.0 357.0 854.2 358.2"/>
<path d="M969.0 324.8 C967.4 327.1 962.3 333.7 959.0 338.8 C955.8 343.9 952.1 349.8 949.7 355.5 C947.2 361.2 945.2 370.0 944.3 372.9"/>
<path d="M999.1 297.1 C996.9 298.3 989.6 301.3 985.7 304.1 C981.8 306.9 978.4 310.8 975.7 314.1 C973.1 317.5 970.7 322.5 969.7 324.1"/>
<path d="M1030.8 337.2 C1028.4 338.3 1020.6 341.3 1016.5 343.8 C1012.3 346.3 1008.7 349.6 1005.8 352.2 C1002.9 354.8 999.9 355.6 999.1 359.5 C998.3 363.4 999.7 369.0 1000.8 375.6 C1001.9 382.1 1005.4 391.7 1005.8 398.9 C1006.2 406.2 1003.5 415.6 1003.1 419.0"/>
<path d="M992.4 338.8 L999.1 359.5"/>
<path d="M1044.2 353.9 C1043.3 357.0 1040.6 366.4 1039.2 372.9 C1037.8 379.4 1037.4 386.8 1035.8 392.9 C1034.3 399.0 1031.1 404.7 1029.8 409.6 C1028.5 414.5 1028.1 420.2 1027.8 422.3"/>
<path d="M1035.8 392.3 C1037.6 393.4 1043.9 396.0 1046.5 398.9 C1049.1 401.8 1049.3 405.6 1051.2 409.6 C1053.1 413.6 1055.9 419.1 1057.9 423.0 C1059.9 426.9 1062.3 431.3 1063.2 433.0"/>
<path d="M1055.9 439.0 L1064.2 445.7"/>
<path d="M742.0 359.5 C744.8 357.5 752.0 350.6 758.7 347.5 C765.4 344.4 773.7 342.7 782.1 340.8 C790.4 339.0 801.0 336.5 808.8 336.5 C816.6 336.4 822.7 337.9 828.8 340.5 C834.9 343.1 841.2 348.0 845.5 352.2 C849.8 356.4 853.2 361.8 854.9 365.5 C856.5 369.3 855.4 373.3 855.5 374.9"/>
<path d="M803.8 375.6 C804.4 378.3 806.3 385.6 807.4 392.3 C808.6 398.9 810.6 408.4 810.8 415.6 C811.0 422.9 809.9 430.1 808.8 435.7 C807.7 441.2 804.9 446.8 804.1 449.0"/>
<path d="M885.6 377.2 C884.6 379.7 882.9 388.1 879.6 392.3 C876.2 396.4 871.8 399.5 865.5 402.3 C859.3 405.0 849.4 407.2 842.2 408.9 C834.9 410.7 827.4 411.5 822.1 412.6 C816.9 413.7 812.7 415.1 810.8 415.6"/>
<path d="M747.0 415.6 C749.0 417.6 755.5 423.6 758.7 427.6 C761.9 431.6 763.3 436.0 766.0 439.7 C768.8 443.3 771.0 446.5 775.4 449.7 C779.7 452.9 786.5 456.5 792.1 459.0 C797.6 461.5 803.2 462.4 808.8 464.7 C814.3 467.0 820.7 469.8 825.5 473.1 C830.2 476.3 835.2 482.2 837.2 484.1"/>
<path d="M838.8 457.4 C838.0 459.3 835.2 466.0 833.8 469.0 C832.4 472.1 831.0 474.6 830.5 475.7"/>
<path d="M138.6 489.0 C141.6 489.7 150.0 493.5 156.9 493.3 C163.9 493.2 173.1 489.2 180.3 488.0 C187.5 486.8 194.2 485.2 200.3 486.0 C206.5 486.8 210.4 491.9 217.0 492.7 C223.7 493.5 232.6 491.3 240.4 490.7 C248.2 490.1 259.9 489.3 263.8 489.0"/>
<path d="M128.5 514.1 C131.6 514.9 141.1 518.9 146.9 519.1 C152.8 519.2 158.0 516.8 163.6 514.7 C169.2 512.7 174.2 508.5 180.3 506.7 C186.4 504.9 194.2 506.3 200.3 504.0 C206.5 501.8 214.2 495.1 217.0 493.3"/>
<path d="M217.0 499.0 C220.9 499.9 231.5 502.9 240.4 504.0 C249.3 505.2 265.4 505.7 270.5 506.0"/>
<path d="M130.2 500.7 C132.4 501.8 140.5 506.0 143.6 507.4 C146.6 508.8 147.7 508.8 148.6 509.0"/>
<path d="M142.9 531.4 C143.7 532.0 147.5 533.2 147.6 534.8 C147.7 536.3 144.9 538.8 143.6 540.8 C142.2 542.8 140.2 545.8 139.6 546.8"/>
<path d="M218.7 513.4 C217.9 515.3 216.8 520.6 213.7 524.7 C210.6 528.9 204.2 532.5 200.3 538.1 C196.4 543.7 192.0 554.8 190.3 558.1"/>
<path d="M218.7 513.4 C220.1 515.2 224.8 521.7 227.0 524.1 C229.3 526.4 231.2 526.8 232.1 527.4"/>
<path d="M258.8 509.0 C260.2 510.5 262.9 515.2 267.1 518.1 C271.3 520.9 278.5 523.6 283.8 526.1 C289.1 528.5 296.6 531.6 299.2 532.7"/>
<path d="M250.4 521.4 L263.8 515.7"/>
<path d="M297.2 505.7 C295.5 507.1 290.0 511.8 287.1 514.1 C284.3 516.3 281.0 518.2 279.8 519.1"/>
<path d="M333.9 489.0 C331.1 491.0 321.4 497.1 317.2 500.7 C313.0 504.3 310.0 507.4 308.8 510.7 C307.7 514.1 310.2 519.1 310.5 520.7"/>
<path d="M363.3 512.4 C362.6 516.0 360.9 526.8 359.3 534.1 C357.6 541.4 354.3 552.4 353.3 556.1"/>
<path d="M322.2 580.8 C324.2 583.6 329.7 593.3 333.9 597.5 C338.1 601.8 342.5 603.7 347.2 606.2 C352.0 608.7 360.0 611.5 362.6 612.5"/>
<path d="M382.0 522.4 C382.7 524.9 383.7 532.6 386.0 537.4 C388.4 542.3 392.7 547.1 396.0 551.4 C399.4 555.8 404.4 561.5 406.1 563.5"/>
<path d="M406.1 563.5 C403.7 564.8 396.6 567.9 392.0 571.5 C387.5 575.0 382.0 579.9 378.7 584.8 C375.3 589.7 373.0 594.9 372.0 600.9 C371.0 606.9 370.4 613.8 372.7 620.9 C374.9 628.0 383.5 639.8 385.7 643.6"/>
<path d="M406.1 563.5 C407.6 565.9 412.7 572.9 415.4 578.2 C418.1 583.4 420.3 589.0 422.1 594.9 C423.9 600.8 425.4 610.4 426.1 613.5"/>
<path d="M424.1 484.0 C423.6 487.3 420.9 496.8 421.4 504.0 C422.0 511.3 424.5 520.2 427.4 527.4 C430.3 534.6 434.1 541.3 438.8 547.4 C443.5 553.6 450.0 559.9 455.5 564.1 C460.9 568.4 468.8 571.4 471.5 572.8"/>
<path d="M477.2 492.3 C479.1 493.7 484.1 498.5 488.9 500.7 C493.6 502.9 498.9 504.7 505.6 505.7 C512.2 506.7 521.7 506.1 528.9 506.7 C536.2 507.3 542.8 507.6 549.0 509.4 C555.1 511.2 560.9 513.8 565.7 517.4 C570.4 521.0 574.7 525.2 577.3 530.7 C580.0 536.3 581.4 544.0 581.7 550.8 C582.0 557.6 581.1 564.7 579.0 571.5 C576.9 578.3 573.0 585.9 569.0 591.5 C565.0 597.1 557.3 602.6 555.0 604.9"/>
<path d="M552.3 534.1 C549.5 535.9 541.2 540.8 535.6 544.8 C530.0 548.8 523.9 553.4 518.9 558.1 C513.9 562.8 510.6 568.4 505.6 572.8 C500.5 577.3 494.4 580.6 488.9 584.8 C483.3 589.1 477.1 592.7 472.2 598.2 C467.3 603.6 465.0 612.1 459.5 617.6 C453.9 623.0 445.6 628.0 438.8 630.9 C432.0 633.8 426.0 635.1 418.7 634.9 C411.5 634.7 399.3 630.5 395.4 629.6"/>
<path d="M470.5 624.9 C473.6 624.5 481.9 622.9 488.9 622.6 C495.8 622.2 504.4 623.2 512.2 622.9 C520.0 622.6 528.5 622.0 535.6 620.9 C542.7 619.8 551.7 617.0 555.0 616.2"/>
<path d="M587.4 490.7 C588.8 492.6 592.6 499.2 595.7 502.4 C598.8 505.5 600.7 508.0 605.7 509.4 C610.7 510.8 619.1 511.0 625.8 510.7 C632.4 510.4 639.7 509.3 645.8 507.4 C651.9 505.5 658.3 503.3 662.5 499.4 C666.7 495.5 669.4 486.6 670.8 484.0"/>
<path d="M577.3 530.7 C579.8 528.5 587.6 521.0 592.4 517.4 C597.1 513.8 603.5 510.7 605.7 509.4"/>
<path d="M665.8 500.7 C668.0 502.4 675.3 506.8 679.2 510.7 C683.1 514.6 686.3 518.9 689.2 524.1 C692.1 529.2 694.6 535.5 696.5 541.4 C698.5 547.3 700.2 556.5 700.9 559.5"/>
<path d="M679.2 497.4 C682.5 498.0 692.5 501.1 699.2 501.4 C705.9 501.6 711.8 499.9 719.2 498.7 C726.7 497.5 739.8 494.8 744.0 494.0"/>
<path d="M709.2 527.4 C709.2 529.4 707.6 535.5 709.2 539.4 C710.9 543.3 715.4 547.8 719.2 550.8 C723.1 553.8 728.5 555.9 732.6 557.5 C736.7 559.0 742.1 559.7 744.0 560.1"/>
<path d="M700.9 549.1 L709.2 542.4"/>
<path d="M655.8 545.8 C654.6 547.0 650.7 550.6 648.5 553.4 C646.2 556.3 646.0 560.1 642.5 562.8 C638.9 565.5 629.9 568.4 627.4 569.5"/>
<path d="M837.2 484.0 C837.9 485.7 841.2 490.3 841.5 494.0 C841.8 497.7 839.3 504.0 838.8 506.0"/>
<path d="M742.0 497.4 C745.3 497.7 755.4 497.7 762.0 499.4 C768.7 501.0 776.5 504.3 782.1 507.4 C787.6 510.5 792.4 514.1 795.4 518.1 C798.5 522.1 800.4 526.7 800.4 531.4 C800.4 536.1 798.5 542.0 795.4 546.1 C792.4 550.2 784.3 554.5 782.1 556.1"/>
<path d="M800.4 531.4 C802.5 531.1 808.6 530.3 812.8 529.4 C817.0 528.5 822.1 527.2 825.5 526.1 C828.8 525.0 831.6 523.3 832.8 522.7"/>
<path d="M878.9 525.7 C881.1 525.9 888.2 527.1 892.3 526.7 C896.3 526.3 899.6 524.7 902.9 523.4 C906.3 522.1 910.7 519.8 912.3 519.1"/>
<path d="M902.9 523.4 C904.2 524.6 908.5 528.4 910.6 530.7 C912.7 533.1 914.8 536.3 915.6 537.4"/>
<path d="M950.7 492.3 C949.6 494.3 946.0 499.9 944.3 504.0 C942.7 508.2 941.4 513.6 941.0 517.4 C940.6 521.2 941.6 525.2 941.7 526.7"/>
</g>
<path d="M896.5 251.8 C899.3 252.0 907.5 251.9 913.1 253.4 C918.6 254.9 924.5 257.8 929.6 260.9 C934.6 263.9 939.2 268.0 943.4 271.9 C947.5 275.8 951.2 279.9 954.4 284.3 C957.6 288.6 960.4 293.5 962.6 298.0 C964.8 302.6 966.6 308.1 967.6 311.8 C968.6 315.6 968.5 319.2 968.7 320.6 L968.7 320.6 C968.2 319.2 967.2 315.0 965.4 311.8 C963.6 308.6 960.4 304.8 957.7 301.3 C954.9 297.9 952.0 294.2 948.9 290.9 C945.7 287.6 942.5 284.9 939.0 281.5 C935.4 278.1 931.7 274.4 927.4 270.5 C923.1 266.6 918.2 261.1 913.1 258.4 C907.9 255.6 899.3 254.7 896.5 254.0Z" fill="#000"/>
<path d="M990.2 255.6 L967.6 281.0 L967.6 281.0 C968.9 280.9 972.4 282.2 975.6 280.4 C978.8 278.7 983.6 274.1 986.6 270.5 C989.6 266.9 993.2 261.1 993.8 258.7 C994.4 256.2 990.8 256.1 990.2 255.6Z" fill="#000"/>
<path d="M629.9 45.8 L638.8 48.8 L638.8 48.8 C638.6 50.5 638.8 55.6 637.8 59.3 C636.8 63.0 634.9 67.1 632.9 71.1 C630.9 75.0 627.1 81.0 626.0 83.0 L619.0 80.0 L619.0 80.0 C619.8 77.5 622.7 69.6 624.0 65.2 C625.3 60.8 626.0 56.6 627.0 53.4 C628.0 50.2 629.4 47.1 629.9 45.8Z" fill="#000"/>
<path d="M622.0 80.0 C619.3 80.5 613.2 81.7 606.0 83.0 C598.8 84.3 586.8 85.2 579.0 88.0 C571.2 90.8 562.3 98.0 559.0 100.0" fill="none" stroke="#000" stroke-width="4.5" stroke-linejoin="round"  stroke-linecap="round"/>
<path d="M559.0 100.0 C557.7 102.2 552.2 108.0 551.0 113.0 C549.8 118.0 550.7 125.0 552.0 130.0 C553.3 135.0 556.7 138.0 559.0 143.0 C561.3 148.0 566.0 155.5 566.0 160.0 C566.0 164.5 560.2 168.3 559.0 170.0" fill="none" stroke="#000" stroke-width="6" stroke-linejoin="round"  stroke-linecap="round"/>
<path d="M559.0 170.0 C556.8 172.8 549.8 179.8 546.0 187.0 C542.2 194.2 537.7 208.7 536.0 213.0" fill="none" stroke="#000" stroke-width="6.2" stroke-linejoin="round"  stroke-linecap="round"/>
<path d="M536.0 213.0 C533.7 217.8 525.2 233.8 522.0 242.0 C518.8 250.2 517.8 258.7 517.0 262.0" fill="none" stroke="#000" stroke-width="5" stroke-linejoin="round"  stroke-linecap="round"/>
<path d="M517.0 262.0 C516.7 265.8 516.3 278.3 515.0 285.0 C513.7 291.7 511.7 297.5 509.0 302.0 C506.3 306.5 502.2 308.3 499.0 312.0 C495.8 315.7 491.8 321.0 490.0 324.0 C488.2 327.0 488.3 329.0 488.0 330.0" fill="none" stroke="#000" stroke-width="3.8" stroke-linejoin="round"  stroke-linecap="round"/>
<path d="M308.0 565.0 C308.7 560.5 310.0 546.5 312.0 538.0 C314.0 529.5 316.5 520.8 320.0 514.0 C323.5 507.2 328.0 502.0 333.0 497.0 C338.0 492.0 345.2 491.0 350.0 484.0 C354.8 477.0 358.3 463.7 362.0 455.0 C365.7 446.3 368.7 438.0 372.0 432.0 C375.3 426.0 377.5 423.0 382.0 419.0 C386.5 415.0 392.8 411.0 399.0 408.0 C405.2 405.0 410.7 403.8 419.0 401.0 C427.3 398.2 438.5 394.7 449.0 391.5 C459.5 388.3 474.3 385.2 482.0 382.0 C489.7 378.8 490.5 376.2 495.0 372.0 C499.5 367.8 506.7 359.5 509.0 357.0" fill="none" stroke="#000" stroke-width="5.8" stroke-linejoin="round"  stroke-linecap="round"/>
<path d="M509.0 357.0 C512.8 356.5 525.3 354.8 532.0 354.0 C538.7 353.2 543.5 354.0 549.0 352.0 C554.5 350.0 559.0 345.8 565.0 342.0 C571.0 338.2 578.3 332.8 585.0 329.0 C591.7 325.2 598.3 321.0 605.0 319.0 C611.7 317.0 620.0 316.8 625.0 317.0 C630.0 317.2 633.3 319.5 635.0 320.0" fill="none" stroke="#000" stroke-width="5" stroke-linejoin="round"  stroke-linecap="round"/>
<path d="M585.0 329.0 C588.3 327.3 598.3 321.0 605.0 319.0 C611.7 317.0 620.0 316.8 625.0 317.0 C630.0 317.2 633.3 319.5 635.0 320.0" fill="none" stroke="#000" stroke-width="6.2" stroke-linejoin="round"  stroke-linecap="round"/>
<path d="M911.0 364.5 L913.0 382.0" fill="none" stroke="#000" stroke-width="5" stroke-linejoin="round"  stroke-linecap="round"/>
<path d="M913.0 382.0 L916.0 402.0" fill="none" stroke="#000" stroke-width="6.5" stroke-linejoin="round"  stroke-linecap="round"/>
<path d="M916.0 402.0 L920.0 422.0" fill="none" stroke="#000" stroke-width="7.5" stroke-linejoin="round"  stroke-linecap="round"/>
<path d="M920.0 422.0 C918.7 423.2 916.2 425.2 912.0 429.0 C907.8 432.8 899.5 437.8 895.0 445.0 C890.5 452.2 888.3 464.3 885.0 472.0 C881.7 479.7 880.5 484.5 875.0 491.0 C869.5 497.5 859.7 504.3 852.0 511.0 C844.3 517.7 832.8 527.7 829.0 531.0" fill="none" stroke="#000" stroke-width="2" stroke-linejoin="round"  stroke-linecap="round"/>
<path d="M911.0 364.5 L911.0 349.0" fill="none" stroke="#000" stroke-width="4.8" stroke-linejoin="round"  stroke-linecap="round"/>
<path d="M911.0 349.0 L916.0 332.0" fill="none" stroke="#000" stroke-width="4" stroke-linejoin="round"  stroke-linecap="round"/>
<path d="M916.0 332.0 L919.0 325.0" fill="none" stroke="#000" stroke-width="2.6" stroke-linejoin="round"  stroke-linecap="round"/>
<path d="M829.0 531.0 C825.7 533.5 816.8 541.8 809.0 546.0 C801.2 550.2 789.8 553.0 782.0 556.0 C774.2 559.0 768.7 561.5 762.0 564.0 C755.3 566.5 745.3 569.8 742.0 571.0" fill="none" stroke="#000" stroke-width="3" stroke-linejoin="round"  stroke-linecap="round"/>
<path d="M742.0 571.0 C733.2 572.2 703.3 576.6 689.0 578.5 C674.7 580.4 664.3 581.3 656.0 582.5 C647.7 583.7 645.2 583.6 639.0 585.5 C632.8 587.4 622.3 592.6 619.0 594.0" fill="none" stroke="#000" stroke-width="2.6" stroke-linejoin="round"  stroke-linecap="round"/>
<path d="M916.0 535.0 C914.2 535.8 911.0 538.4 905.0 540.0 C899.0 541.6 889.0 544.5 880.0 544.5 C871.0 544.5 859.5 542.2 851.0 540.0 C842.5 537.8 832.7 532.5 829.0 531.0" fill="none" stroke="#000" stroke-width="2.4" stroke-linejoin="round"  stroke-linecap="round"/>
<path d="M1009.0 526.0 C1005.0 527.3 993.2 531.8 985.0 534.0 C976.8 536.2 967.3 537.9 960.0 539.0 C952.7 540.1 946.8 540.6 941.0 540.5 C935.2 540.4 929.2 539.4 925.0 538.5 C920.8 537.6 917.5 535.6 916.0 535.0" fill="none" stroke="#000" stroke-width="2.2" stroke-linejoin="round"  stroke-linecap="round"/>
<path d="M1049.0 484.0 C1047.3 486.8 1042.3 496.0 1039.0 501.0 C1035.7 506.0 1034.0 509.8 1029.0 514.0 C1024.0 518.2 1012.3 524.0 1009.0 526.0" fill="none" stroke="#000" stroke-width="1.6" stroke-linejoin="round"  stroke-linecap="round"/>
<path d="M1015.0 287.0 L1019.0 302.0" fill="none" stroke="#000" stroke-width="1.8" stroke-linejoin="round"  stroke-linecap="round"/>
<path d="M1062.0 370.0 C1062.5 373.2 1063.7 382.5 1065.0 389.0 C1066.3 395.5 1069.2 403.0 1070.0 409.0 C1070.8 415.0 1070.0 422.3 1070.0 425.0" fill="none" stroke="#000" stroke-width="1.8" stroke-linejoin="round"  stroke-linecap="round"/>
<path d="M636.0 319.2 L911.0 362.6" fill="none" stroke="#1a1a0a" stroke-width="2.4" stroke-linejoin="round" stroke-dasharray="5.4 7.2" stroke-dashoffset="-2" stroke-linecap="butt"/>
<path d="M491.0 332.0 L508.0 354.0" fill="none" stroke="#15181b" stroke-width="2.4" stroke-linejoin="round" stroke-dasharray="4 4" stroke-linecap="butt"/>
<path d="M924.0 424.0 C927.0 425.4 934.8 430.1 942.3 432.3 C949.8 434.5 960.7 435.7 969.0 437.3 C977.4 439.0 985.7 440.1 992.4 442.3 C999.1 444.6 1006.3 449.3 1009.1 450.7" fill="none" stroke="#000" stroke-width="4.6" stroke-linejoin="round"  stroke-linecap="round"/>
<path d="M1010.8 451.7 L1016.5 457.0" fill="none" stroke="#000" stroke-width="6.5" stroke-linejoin="round"  stroke-linecap="round"/>
<path d="M1017.5 458.4 C1018.9 460.1 1022.7 464.8 1025.8 469.0 C1028.9 473.3 1034.2 481.6 1035.8 484.1" fill="none" stroke="#000" stroke-width="3" stroke-linejoin="round"  stroke-linecap="round"/>
<path d="M924.0 424.0 C923.7 427.0 921.7 436.5 922.3 442.3 C922.9 448.2 925.1 453.5 927.3 459.0 C929.5 464.6 933.2 471.5 935.7 475.7 C938.2 479.9 941.2 482.7 942.3 484.1" fill="none" stroke="#000" stroke-width="2.2" stroke-linejoin="round"  stroke-linecap="round"/>
<path d="M941.7 482.7 L950.7 485.0" fill="none" stroke="#000" stroke-width="3" stroke-linejoin="round"  stroke-linecap="round"/>
<path d="M950.7 485.0 C953.7 485.7 962.1 486.9 969.0 489.0 C976.0 491.1 984.6 494.6 992.4 497.4 C1000.2 500.1 1009.1 503.5 1015.8 505.7 C1022.5 507.9 1029.7 509.9 1032.5 510.7" fill="none" stroke="#000" stroke-width="5" stroke-linejoin="round"  stroke-linecap="round"/>
<path d="M585.7 608.9 C589.0 607.5 600.2 603.3 605.7 600.9 C611.3 598.4 613.5 597.0 619.1 594.2 C624.6 591.4 635.8 585.8 639.1 584.2" fill="none" stroke="#000" stroke-width="3" stroke-linejoin="round"  stroke-linecap="round"/>
<path d="M455.5 660.0 C458.3 659.7 464.9 659.4 472.2 658.6 C479.4 657.8 491.1 656.7 498.9 655.3 C506.7 653.9 515.6 651.1 518.9 650.3" fill="none" stroke="#000" stroke-width="3.2" stroke-linejoin="round"  stroke-linecap="round"/>
<path d="M525.6 637.6 C525.3 640.9 522.8 650.9 523.9 657.6 C525.0 664.3 529.2 671.8 532.3 677.7 C535.3 683.5 536.7 689.9 542.3 692.7 C547.8 695.5 557.9 694.4 565.7 694.4 C573.4 694.4 581.8 694.1 589.0 692.7 C596.3 691.3 602.4 688.5 609.1 686.0 C615.7 683.5 623.0 681.8 629.1 677.7 C635.2 673.5 643.0 663.7 645.8 661.0" fill="none" stroke="#000" stroke-width="4.5" stroke-linejoin="round"  stroke-linecap="round"/>
<path d="M609.1 687.7 C611.8 689.9 619.1 696.6 625.8 701.0 C632.4 705.5 641.3 710.8 649.1 714.4 C656.9 718.0 666.4 720.8 672.5 722.7 C678.6 724.7 683.6 725.5 685.9 726.1" fill="none" stroke="#000" stroke-width="4.5" stroke-linejoin="round"  stroke-linecap="round"/>
<path d="M734.3 701.0 C735.1 703.8 737.7 713.5 739.3 717.7 C740.9 721.9 743.2 724.7 744.0 726.1" fill="none" stroke="#000" stroke-width="4.5" stroke-linejoin="round"  stroke-linecap="round"/>
<path d="M75.8 434.1 C76.2 436.3 77.1 442.1 78.5 447.4 C79.8 452.8 82.9 463.0 83.8 466.1" fill="none" stroke="#000" stroke-width="1.6" stroke-linejoin="round"  stroke-linecap="round"/>
<path d="M83.8 466.1 C85.5 471.2 91.4 489.4 94.2 496.8 C96.9 504.3 99.2 508.5 100.2 510.9" fill="none" stroke="#000" stroke-width="2.6" stroke-linejoin="round"  stroke-linecap="round"/>
<path d="M100.2 510.9 C100.9 512.0 101.6 513.2 104.5 517.9 C107.4 522.5 113.1 533.4 117.5 538.6 C121.9 543.7 128.7 546.9 130.9 548.6" fill="none" stroke="#000" stroke-width="4" stroke-linejoin="round"  stroke-linecap="round"/>
<path d="M220.4 569.1 C228.2 569.0 252.6 568.8 267.1 568.1 C281.6 567.5 300.5 565.6 307.2 565.1" fill="none" stroke="#000" stroke-width="1.2" stroke-linejoin="round"  stroke-linecap="round"/>
<path d="M158.9 178.3 C160.4 176.9 165.1 172.3 167.9 169.9 C170.8 167.6 174.9 164.9 176.3 163.9" fill="none" stroke="#000" stroke-width="3" stroke-linejoin="round"  stroke-linecap="round"/>
<path d="M204.3 146.2 L213.7 141.2" fill="none" stroke="#000" stroke-width="1.2" stroke-linejoin="round"  stroke-linecap="round"/>
<path d="M250.4 121.5 C252.6 120.4 259.3 117.0 263.8 114.9 C268.2 112.7 274.9 109.8 277.1 108.8" fill="none" stroke="#000" stroke-width="1.8" stroke-linejoin="round"  stroke-linecap="round"/>
<path d="M360.6 79.5 L372.0 72.1" fill="none" stroke="#000" stroke-width="2.5" stroke-linejoin="round"  stroke-linecap="round"/>
<path d="M372.0 72.1 L395.4 68.4" fill="none" stroke="#000" stroke-width="2.5" stroke-linejoin="round"  stroke-linecap="round"/>
<path d="M106.8 242.0 C105.7 244.8 101.7 253.1 100.2 258.7 C98.6 264.3 97.9 272.6 97.5 275.4" fill="none" stroke="#000" stroke-width="2.5" stroke-linejoin="round"  stroke-linecap="round"/>
<path d="M298.8 103.5 C298.8 106.8 298.3 117.4 298.8 123.5 C299.4 129.7 299.7 134.7 302.2 140.2 C304.7 145.8 309.1 150.8 313.9 156.9 C318.6 163.0 325.0 171.1 330.6 177.0 C336.1 182.8 342.2 188.2 347.2 192.0 C352.3 195.8 356.5 198.0 360.6 199.7 C364.7 201.3 367.3 201.2 372.0 202.0 C376.6 202.8 384.8 203.2 388.7 204.3 C392.6 205.5 394.1 202.4 395.4 208.7 C396.6 215.0 395.9 231.0 396.0 242.1 C396.1 253.1 396.1 267.5 396.0 275.0 C395.9 282.5 396.2 284.2 395.6 287.0 C395.0 289.8 394.9 290.8 392.5 292.0 C390.1 293.2 387.2 292.9 381.2 294.3 C375.2 295.8 365.1 298.7 356.4 300.7 C347.7 302.7 336.2 304.5 328.9 306.2 C321.5 307.9 317.4 307.4 312.3 310.8 C307.2 314.2 301.8 320.5 298.6 326.8 C295.4 333.1 293.7 341.1 293.0 348.9 C292.3 356.7 292.6 367.5 294.4 373.7 C296.2 379.9 298.2 382.3 304.0 386.0 C309.8 389.7 320.2 393.6 328.9 395.7 C337.6 397.8 348.1 397.8 356.4 398.5 C364.7 399.2 371.6 398.7 378.5 399.8 C385.4 400.9 391.1 404.3 397.7 405.3 C404.3 406.3 414.9 405.6 418.4 405.6" fill="none" stroke="#ff0000" stroke-width="5.8" stroke-linejoin="round"  stroke-linecap="round"/>
<path d="M752.0 75.1 C750.3 76.2 746.3 79.7 742.0 81.8 C737.7 83.9 731.9 85.0 725.9 87.5 C719.9 90.0 712.6 93.3 705.9 96.8 C699.2 100.3 692.5 104.3 685.9 108.5 C679.2 112.7 671.7 117.1 665.8 121.9 C660.0 126.6 655.2 131.6 650.8 136.9 C646.3 142.2 643.3 147.5 639.1 153.6 C634.9 159.7 630.8 166.4 625.8 173.6 C620.7 180.9 614.1 189.8 609.1 197.0 C604.1 204.2 599.9 209.5 595.7 217.0 C591.5 224.5 586.5 234.6 584.0 242.1 C581.5 249.6 582.1 255.4 580.7 262.0 C579.3 268.7 577.1 274.3 575.7 282.1 C574.3 289.9 571.8 300.7 572.3 308.8 C572.9 316.8 577.9 326.9 579.0 330.5" fill="none" stroke="#ff0000" stroke-width="5.8" stroke-linejoin="round"  stroke-linecap="round"/>
<path d="M641.0 157.2 C641.9 160.9 643.0 173.0 646.1 179.6 C649.2 186.2 654.1 192.8 659.9 196.8 C665.6 200.8 671.4 202.3 680.6 203.7 C689.8 205.1 704.1 205.1 715.0 205.4 C725.9 205.7 736.2 204.5 746.0 205.4 C755.8 206.3 765.6 209.4 773.6 210.6 C781.6 211.8 789.0 213.0 794.2 212.3 C799.4 211.6 801.1 207.3 804.6 206.6 C808.1 205.9 811.3 206.9 815.0 208.0 C818.7 209.1 825.0 212.4 827.0 213.3" fill="none" stroke="#ff0000" stroke-width="5.8" stroke-linejoin="round"  stroke-linecap="round"/>
<path d="M827.0 213.3 C826.7 214.6 827.8 216.8 825.2 220.9 C822.6 225.0 815.5 231.2 811.5 238.1 C807.5 245.0 803.4 254.4 801.1 262.2 C798.8 270.0 797.8 283.9 797.7 285.0 C797.6 286.1 800.8 267.0 800.4 268.7 C800.1 270.4 796.8 287.1 795.4 295.4 C794.0 303.8 793.5 311.0 792.1 318.8 C790.7 326.6 788.5 332.7 787.1 342.2 C785.7 351.6 784.1 364.4 783.7 375.6 C783.3 386.7 784.2 397.8 784.7 408.9 C785.3 420.1 786.4 429.8 787.1 442.3 C787.7 454.9 789.0 475.5 788.7 484.1 C788.5 492.7 788.2 491.5 785.4 494.0 C782.6 496.5 777.1 497.6 772.1 499.0 C767.0 500.4 760.4 501.6 755.4 502.4 C750.3 503.1 748.0 502.4 742.0 503.4 C736.0 504.3 727.5 506.5 719.2 508.0 C711.0 509.5 701.4 511.1 692.5 512.4 C683.6 513.7 673.3 514.6 665.8 515.7 C658.3 516.8 651.6 517.4 647.5 519.1 C643.3 520.7 642.0 521.0 640.8 525.7 C639.6 530.5 639.6 540.5 640.1 547.4 C640.7 554.4 641.8 561.6 644.1 567.5 C646.5 573.3 652.5 580.0 654.1 582.5" fill="none" stroke="#ff0000" stroke-width="5.8" stroke-linejoin="round"  stroke-linecap="round"/>
<path d="M508.9 357.2 C508.3 360.3 506.4 369.2 505.6 375.6 C504.7 382.0 503.3 390.0 503.9 395.6 C504.4 401.2 505.3 406.1 508.9 408.9 C512.5 411.8 520.6 413.2 525.6 413.0 C530.6 412.7 533.4 408.9 538.9 407.3 C544.5 405.6 551.2 404.6 559.0 402.9 C566.8 401.3 578.5 400.2 585.7 397.3 C592.9 394.4 597.4 390.3 602.4 385.6 C607.4 380.8 611.8 375.6 615.7 368.9 C619.6 362.2 622.7 353.3 625.8 345.5 C628.8 337.7 632.7 326.0 634.1 322.1" fill="none" stroke="#ff0000" stroke-width="5.8" stroke-linejoin="round"  stroke-linecap="round"/>
<path d="M569.0 35.0 L555.0 83.0" fill="none" stroke="#000" stroke-width="5.5" stroke-linejoin="round" stroke-linecap="butt"/>
<path d="M712.0 36.0 L674.0 77.0" fill="none" stroke="#000" stroke-width="5.5" stroke-linejoin="round" stroke-linecap="butt"/>
<path d="M1003.0 167.2 L810.0 290.8" fill="none" stroke="#000" stroke-width="5.6" stroke-linejoin="round" stroke-linecap="butt"/>
<path d="M48.0 318.0 L259.0 248.0" fill="none" stroke="#000" stroke-width="5.5" stroke-linejoin="round" stroke-linecap="butt"/>
<path d="M156.0 283.0 L210.0 373.0" fill="none" stroke="#000" stroke-width="5.5" stroke-linejoin="round" stroke-linecap="butt"/>
<text transform="translate(589 32.5) scale(1 1.08)" text-anchor="middle">A</text>
<text transform="translate(724 44) scale(1 1.08)" text-anchor="middle">E</text>
<text transform="translate(1017 177) scale(1 1.08)" text-anchor="middle">G</text>
<text transform="translate(230 208) scale(1 1.08)" text-anchor="middle">F</text>
<text transform="translate(37 332) scale(1 1.08)" text-anchor="middle">H</text>
<text transform="translate(362.3 346) scale(1 1.08)" text-anchor="middle">J</text>
<text transform="translate(96 398) scale(1 1.08)" text-anchor="middle">K</text>
<text transform="translate(120 500) scale(1 1.08)" text-anchor="middle">M</text>
<text transform="translate(526 339) scale(1 1.08)" text-anchor="middle">C</text>
<text transform="translate(526.5 396) scale(1 1.08)" text-anchor="middle">D</text>
<text transform="translate(489 427) scale(1 1.08)" text-anchor="middle">N</text>
<text transform="translate(1036 451) scale(1 1.08)" text-anchor="middle">B</text>
</g>
</svg></body></html>
